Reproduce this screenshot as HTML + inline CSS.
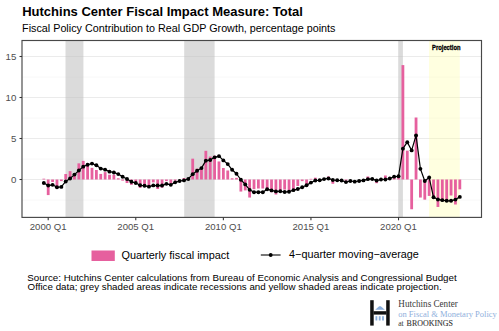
<!DOCTYPE html><html><head><meta charset="utf-8"><style>html,body{margin:0;padding:0;background:#fff;}svg{display:block;}text{font-family:"Liberation Sans",sans-serif;}</style></head><body>
<svg width="499" height="331" viewBox="0 0 499 331">
<rect x="0" y="0" width="499" height="331" fill="#fff"/>
<text x="22.2" y="15.6" font-size="13.0" font-weight="bold" fill="#000">Hutchins Center Fiscal Impact Measure: Total</text>
<text x="22.1" y="31.7" font-size="10.78" fill="#000">Fiscal Policy Contribution to Real GDP Growth, percentage points</text>
<defs><clipPath id="pc"><rect x="22.00" y="40.50" width="459.50" height="176.90"/></clipPath></defs>
<g clip-path="url(#pc)">
<line x1="22.00" x2="481.50" y1="200.00" y2="200.00" stroke="#F2F2F2" stroke-width="0.55"/>
<line x1="22.00" x2="481.50" y1="159.00" y2="159.00" stroke="#F2F2F2" stroke-width="0.55"/>
<line x1="22.00" x2="481.50" y1="118.00" y2="118.00" stroke="#F2F2F2" stroke-width="0.55"/>
<line x1="22.00" x2="481.50" y1="77.00" y2="77.00" stroke="#F2F2F2" stroke-width="0.55"/>
<line x1="22.00" x2="481.50" y1="179.50" y2="179.50" stroke="#EBEBEB" stroke-width="1.07"/>
<line x1="22.00" x2="481.50" y1="138.50" y2="138.50" stroke="#EBEBEB" stroke-width="1.07"/>
<line x1="22.00" x2="481.50" y1="97.50" y2="97.50" stroke="#EBEBEB" stroke-width="1.07"/>
<line x1="22.00" x2="481.50" y1="56.50" y2="56.50" stroke="#EBEBEB" stroke-width="1.07"/>
<rect x="65.50" y="40.50" width="17.90" height="176.90" fill="#BEBEBE" fill-opacity="0.55"/>
<rect x="184.20" y="40.50" width="30.40" height="176.90" fill="#BEBEBE" fill-opacity="0.55"/>
<rect x="398.20" y="40.50" width="4.70" height="176.90" fill="#BEBEBE" fill-opacity="0.55"/>
<rect x="429.00" y="40.50" width="30.80" height="176.90" fill="#FFFF99" fill-opacity="0.3"/>
<rect x="42.42" y="178.68" width="2.80" height="0.82" fill="#E6609E"/>
<rect x="46.80" y="179.50" width="2.80" height="15.58" fill="#E6609E"/>
<rect x="51.18" y="179.50" width="2.80" height="2.46" fill="#E6609E"/>
<rect x="55.56" y="179.50" width="2.80" height="9.02" fill="#E6609E"/>
<rect x="59.94" y="179.50" width="2.80" height="1.64" fill="#E6609E"/>
<rect x="64.32" y="174.01" width="2.80" height="5.49" fill="#E6609E"/>
<rect x="68.69" y="171.14" width="2.80" height="8.36" fill="#E6609E"/>
<rect x="73.07" y="173.10" width="2.80" height="6.40" fill="#E6609E"/>
<rect x="77.45" y="163.35" width="2.80" height="16.15" fill="#E6609E"/>
<rect x="81.83" y="160.89" width="2.80" height="18.61" fill="#E6609E"/>
<rect x="86.21" y="164.49" width="2.80" height="15.01" fill="#E6609E"/>
<rect x="90.59" y="167.86" width="2.80" height="11.64" fill="#E6609E"/>
<rect x="94.97" y="169.99" width="2.80" height="9.51" fill="#E6609E"/>
<rect x="99.35" y="173.92" width="2.80" height="5.58" fill="#E6609E"/>
<rect x="103.73" y="172.12" width="2.80" height="7.38" fill="#E6609E"/>
<rect x="108.11" y="174.74" width="2.80" height="4.76" fill="#E6609E"/>
<rect x="112.48" y="174.74" width="2.80" height="4.76" fill="#E6609E"/>
<rect x="116.86" y="178.27" width="2.80" height="1.23" fill="#E6609E"/>
<rect x="121.24" y="179.50" width="2.80" height="1.15" fill="#E6609E"/>
<rect x="125.62" y="179.50" width="2.80" height="3.53" fill="#E6609E"/>
<rect x="130.00" y="179.50" width="2.80" height="5.33" fill="#E6609E"/>
<rect x="134.38" y="179.50" width="2.80" height="4.10" fill="#E6609E"/>
<rect x="138.76" y="179.50" width="2.80" height="8.36" fill="#E6609E"/>
<rect x="143.14" y="179.50" width="2.80" height="6.97" fill="#E6609E"/>
<rect x="147.52" y="179.50" width="2.80" height="7.71" fill="#E6609E"/>
<rect x="151.90" y="179.50" width="2.80" height="2.87" fill="#E6609E"/>
<rect x="156.28" y="179.50" width="2.80" height="9.51" fill="#E6609E"/>
<rect x="160.65" y="179.50" width="2.80" height="8.20" fill="#E6609E"/>
<rect x="165.03" y="179.50" width="2.80" height="1.64" fill="#E6609E"/>
<rect x="169.41" y="179.50" width="2.80" height="4.10" fill="#E6609E"/>
<rect x="173.79" y="179.50" width="2.80" height="1.23" fill="#E6609E"/>
<rect x="182.55" y="178.02" width="2.80" height="1.48" fill="#E6609E"/>
<rect x="191.31" y="158.67" width="2.80" height="20.83" fill="#E6609E"/>
<rect x="195.69" y="168.59" width="2.80" height="10.91" fill="#E6609E"/>
<rect x="200.06" y="166.79" width="2.80" height="12.71" fill="#E6609E"/>
<rect x="204.44" y="150.80" width="2.80" height="28.70" fill="#E6609E"/>
<rect x="208.82" y="156.54" width="2.80" height="22.96" fill="#E6609E"/>
<rect x="213.20" y="155.72" width="2.80" height="23.78" fill="#E6609E"/>
<rect x="217.58" y="161.46" width="2.80" height="18.04" fill="#E6609E"/>
<rect x="221.96" y="168.02" width="2.80" height="11.48" fill="#E6609E"/>
<rect x="226.34" y="170.48" width="2.80" height="9.02" fill="#E6609E"/>
<rect x="230.72" y="178.27" width="2.80" height="1.23" fill="#E6609E"/>
<rect x="235.10" y="177.86" width="2.80" height="1.64" fill="#E6609E"/>
<rect x="239.48" y="179.50" width="2.80" height="12.05" fill="#E6609E"/>
<rect x="243.85" y="179.50" width="2.80" height="10.91" fill="#E6609E"/>
<rect x="248.23" y="179.50" width="2.80" height="18.04" fill="#E6609E"/>
<rect x="252.61" y="179.50" width="2.80" height="9.68" fill="#E6609E"/>
<rect x="256.99" y="179.50" width="2.80" height="9.02" fill="#E6609E"/>
<rect x="261.37" y="179.50" width="2.80" height="9.02" fill="#E6609E"/>
<rect x="265.75" y="179.50" width="2.80" height="9.02" fill="#E6609E"/>
<rect x="270.13" y="179.50" width="2.80" height="12.71" fill="#E6609E"/>
<rect x="274.51" y="179.50" width="2.80" height="15.01" fill="#E6609E"/>
<rect x="278.89" y="179.50" width="2.80" height="10.66" fill="#E6609E"/>
<rect x="283.27" y="179.50" width="2.80" height="10.09" fill="#E6609E"/>
<rect x="287.64" y="179.50" width="2.80" height="11.89" fill="#E6609E"/>
<rect x="292.02" y="179.50" width="2.80" height="9.51" fill="#E6609E"/>
<rect x="296.40" y="179.50" width="2.80" height="6.48" fill="#E6609E"/>
<rect x="300.78" y="179.50" width="2.80" height="1.64" fill="#E6609E"/>
<rect x="305.16" y="179.50" width="2.80" height="4.92" fill="#E6609E"/>
<rect x="309.54" y="178.84" width="2.80" height="0.66" fill="#E6609E"/>
<rect x="313.92" y="177.70" width="2.80" height="1.80" fill="#E6609E"/>
<rect x="327.06" y="176.47" width="2.80" height="3.03" fill="#E6609E"/>
<rect x="331.44" y="179.50" width="2.80" height="4.26" fill="#E6609E"/>
<rect x="344.57" y="179.50" width="2.80" height="1.23" fill="#E6609E"/>
<rect x="366.47" y="176.47" width="2.80" height="3.03" fill="#E6609E"/>
<rect x="375.22" y="179.50" width="2.80" height="3.69" fill="#E6609E"/>
<rect x="383.98" y="175.48" width="2.80" height="4.02" fill="#E6609E"/>
<rect x="388.36" y="178.68" width="2.80" height="0.82" fill="#E6609E"/>
<rect x="392.74" y="177.45" width="2.80" height="2.05" fill="#E6609E"/>
<rect x="397.12" y="177.04" width="2.80" height="2.46" fill="#E6609E"/>
<rect x="401.50" y="65.11" width="2.80" height="114.39" fill="#E6609E"/>
<rect x="405.88" y="150.64" width="2.80" height="28.86" fill="#E6609E"/>
<rect x="410.26" y="179.50" width="2.80" height="29.77" fill="#E6609E"/>
<rect x="414.64" y="117.51" width="2.80" height="61.99" fill="#E6609E"/>
<rect x="419.01" y="179.50" width="2.80" height="18.04" fill="#E6609E"/>
<rect x="423.39" y="179.50" width="2.80" height="20.17" fill="#E6609E"/>
<rect x="427.77" y="179.50" width="2.80" height="16.40" fill="#E6609E"/>
<rect x="432.15" y="179.50" width="2.80" height="18.86" fill="#E6609E"/>
<rect x="436.53" y="179.50" width="2.80" height="27.47" fill="#E6609E"/>
<rect x="440.91" y="179.50" width="2.80" height="20.09" fill="#E6609E"/>
<rect x="445.29" y="179.50" width="2.80" height="21.32" fill="#E6609E"/>
<rect x="449.67" y="179.50" width="2.80" height="15.99" fill="#E6609E"/>
<rect x="454.05" y="179.50" width="2.80" height="25.01" fill="#E6609E"/>
<rect x="458.43" y="179.50" width="2.80" height="9.84" fill="#E6609E"/>
<polyline points="43.82,183.03 48.20,185.57 52.58,184.83 56.96,187.21 61.34,186.88 65.72,181.47 70.09,178.43 74.47,174.58 78.85,170.48 83.23,166.63 87.61,164.74 91.99,163.59 96.37,165.23 100.75,168.59 105.13,169.66 109.51,171.63 113.88,172.53 118.26,174.09 122.64,176.71 127.02,179.01 131.40,181.80 135.78,183.03 140.16,185.24 144.54,185.81 148.92,186.63 153.30,185.40 157.68,185.57 162.05,185.57 166.43,183.85 170.81,184.83 175.19,182.37 179.57,180.98 183.95,180.40 188.33,178.93 192.71,174.17 197.09,170.81 201.46,168.10 205.84,160.64 210.22,160.07 214.60,157.36 218.98,156.13 223.36,160.39 227.74,164.08 232.12,169.82 236.50,173.76 240.88,179.75 245.25,184.42 249.63,189.83 254.01,192.21 258.39,192.21 262.77,192.21 267.15,189.18 271.53,190.41 275.91,191.39 280.29,191.23 284.67,192.05 289.04,191.72 293.42,190.16 297.80,189.01 302.18,187.21 306.56,185.24 310.94,182.62 315.32,180.48 319.70,180.32 324.08,179.09 328.46,178.43 332.83,179.99 337.21,180.32 341.59,180.48 345.97,182.12 350.35,180.98 354.73,181.63 359.11,180.98 363.49,180.40 367.87,179.17 372.25,178.93 376.62,180.57 381.00,179.50 385.38,179.50 389.76,178.52 394.14,176.63 398.52,176.30 402.90,148.67 407.28,142.19 411.66,150.39 416.04,135.38 420.41,168.84 424.79,180.98 429.17,177.53 433.55,197.29 437.93,199.43 442.31,200.16 446.69,200.82 451.07,200.82 455.45,199.59 459.83,196.88" fill="none" stroke="#000" stroke-width="1.2" stroke-linejoin="round"/>
<circle cx="43.82" cy="183.03" r="1.95" fill="#000"/>
<circle cx="48.20" cy="185.57" r="1.95" fill="#000"/>
<circle cx="52.58" cy="184.83" r="1.95" fill="#000"/>
<circle cx="56.96" cy="187.21" r="1.95" fill="#000"/>
<circle cx="61.34" cy="186.88" r="1.95" fill="#000"/>
<circle cx="65.72" cy="181.47" r="1.95" fill="#000"/>
<circle cx="70.09" cy="178.43" r="1.95" fill="#000"/>
<circle cx="74.47" cy="174.58" r="1.95" fill="#000"/>
<circle cx="78.85" cy="170.48" r="1.95" fill="#000"/>
<circle cx="83.23" cy="166.63" r="1.95" fill="#000"/>
<circle cx="87.61" cy="164.74" r="1.95" fill="#000"/>
<circle cx="91.99" cy="163.59" r="1.95" fill="#000"/>
<circle cx="96.37" cy="165.23" r="1.95" fill="#000"/>
<circle cx="100.75" cy="168.59" r="1.95" fill="#000"/>
<circle cx="105.13" cy="169.66" r="1.95" fill="#000"/>
<circle cx="109.51" cy="171.63" r="1.95" fill="#000"/>
<circle cx="113.88" cy="172.53" r="1.95" fill="#000"/>
<circle cx="118.26" cy="174.09" r="1.95" fill="#000"/>
<circle cx="122.64" cy="176.71" r="1.95" fill="#000"/>
<circle cx="127.02" cy="179.01" r="1.95" fill="#000"/>
<circle cx="131.40" cy="181.80" r="1.95" fill="#000"/>
<circle cx="135.78" cy="183.03" r="1.95" fill="#000"/>
<circle cx="140.16" cy="185.24" r="1.95" fill="#000"/>
<circle cx="144.54" cy="185.81" r="1.95" fill="#000"/>
<circle cx="148.92" cy="186.63" r="1.95" fill="#000"/>
<circle cx="153.30" cy="185.40" r="1.95" fill="#000"/>
<circle cx="157.68" cy="185.57" r="1.95" fill="#000"/>
<circle cx="162.05" cy="185.57" r="1.95" fill="#000"/>
<circle cx="166.43" cy="183.85" r="1.95" fill="#000"/>
<circle cx="170.81" cy="184.83" r="1.95" fill="#000"/>
<circle cx="175.19" cy="182.37" r="1.95" fill="#000"/>
<circle cx="179.57" cy="180.98" r="1.95" fill="#000"/>
<circle cx="183.95" cy="180.40" r="1.95" fill="#000"/>
<circle cx="188.33" cy="178.93" r="1.95" fill="#000"/>
<circle cx="192.71" cy="174.17" r="1.95" fill="#000"/>
<circle cx="197.09" cy="170.81" r="1.95" fill="#000"/>
<circle cx="201.46" cy="168.10" r="1.95" fill="#000"/>
<circle cx="205.84" cy="160.64" r="1.95" fill="#000"/>
<circle cx="210.22" cy="160.07" r="1.95" fill="#000"/>
<circle cx="214.60" cy="157.36" r="1.95" fill="#000"/>
<circle cx="218.98" cy="156.13" r="1.95" fill="#000"/>
<circle cx="223.36" cy="160.39" r="1.95" fill="#000"/>
<circle cx="227.74" cy="164.08" r="1.95" fill="#000"/>
<circle cx="232.12" cy="169.82" r="1.95" fill="#000"/>
<circle cx="236.50" cy="173.76" r="1.95" fill="#000"/>
<circle cx="240.88" cy="179.75" r="1.95" fill="#000"/>
<circle cx="245.25" cy="184.42" r="1.95" fill="#000"/>
<circle cx="249.63" cy="189.83" r="1.95" fill="#000"/>
<circle cx="254.01" cy="192.21" r="1.95" fill="#000"/>
<circle cx="258.39" cy="192.21" r="1.95" fill="#000"/>
<circle cx="262.77" cy="192.21" r="1.95" fill="#000"/>
<circle cx="267.15" cy="189.18" r="1.95" fill="#000"/>
<circle cx="271.53" cy="190.41" r="1.95" fill="#000"/>
<circle cx="275.91" cy="191.39" r="1.95" fill="#000"/>
<circle cx="280.29" cy="191.23" r="1.95" fill="#000"/>
<circle cx="284.67" cy="192.05" r="1.95" fill="#000"/>
<circle cx="289.04" cy="191.72" r="1.95" fill="#000"/>
<circle cx="293.42" cy="190.16" r="1.95" fill="#000"/>
<circle cx="297.80" cy="189.01" r="1.95" fill="#000"/>
<circle cx="302.18" cy="187.21" r="1.95" fill="#000"/>
<circle cx="306.56" cy="185.24" r="1.95" fill="#000"/>
<circle cx="310.94" cy="182.62" r="1.95" fill="#000"/>
<circle cx="315.32" cy="180.48" r="1.95" fill="#000"/>
<circle cx="319.70" cy="180.32" r="1.95" fill="#000"/>
<circle cx="324.08" cy="179.09" r="1.95" fill="#000"/>
<circle cx="328.46" cy="178.43" r="1.95" fill="#000"/>
<circle cx="332.83" cy="179.99" r="1.95" fill="#000"/>
<circle cx="337.21" cy="180.32" r="1.95" fill="#000"/>
<circle cx="341.59" cy="180.48" r="1.95" fill="#000"/>
<circle cx="345.97" cy="182.12" r="1.95" fill="#000"/>
<circle cx="350.35" cy="180.98" r="1.95" fill="#000"/>
<circle cx="354.73" cy="181.63" r="1.95" fill="#000"/>
<circle cx="359.11" cy="180.98" r="1.95" fill="#000"/>
<circle cx="363.49" cy="180.40" r="1.95" fill="#000"/>
<circle cx="367.87" cy="179.17" r="1.95" fill="#000"/>
<circle cx="372.25" cy="178.93" r="1.95" fill="#000"/>
<circle cx="376.62" cy="180.57" r="1.95" fill="#000"/>
<circle cx="381.00" cy="179.50" r="1.95" fill="#000"/>
<circle cx="385.38" cy="179.50" r="1.95" fill="#000"/>
<circle cx="389.76" cy="178.52" r="1.95" fill="#000"/>
<circle cx="394.14" cy="176.63" r="1.95" fill="#000"/>
<circle cx="398.52" cy="176.30" r="1.95" fill="#000"/>
<circle cx="402.90" cy="148.67" r="1.95" fill="#000"/>
<circle cx="407.28" cy="142.19" r="1.95" fill="#000"/>
<circle cx="411.66" cy="150.39" r="1.95" fill="#000"/>
<circle cx="416.04" cy="135.38" r="1.95" fill="#000"/>
<circle cx="420.41" cy="168.84" r="1.95" fill="#000"/>
<circle cx="424.79" cy="180.98" r="1.95" fill="#000"/>
<circle cx="429.17" cy="177.53" r="1.95" fill="#000"/>
<circle cx="433.55" cy="197.29" r="1.95" fill="#000"/>
<circle cx="437.93" cy="199.43" r="1.95" fill="#000"/>
<circle cx="442.31" cy="200.16" r="1.95" fill="#000"/>
<circle cx="446.69" cy="200.82" r="1.95" fill="#000"/>
<circle cx="451.07" cy="200.82" r="1.95" fill="#000"/>
<circle cx="455.45" cy="199.59" r="1.95" fill="#000"/>
<circle cx="459.83" cy="196.88" r="1.95" fill="#000"/>
<text x="432.1" y="50.1" font-size="7.1" font-weight="bold" fill="#000" stroke="#000" stroke-width="0.3" textLength="28.4" lengthAdjust="spacingAndGlyphs">Projection</text>
</g>
<rect x="22.00" y="40.50" width="459.50" height="176.90" fill="none" stroke="#484848" stroke-width="1.15"/>
<line x1="19.5" x2="22.00" y1="179.50" y2="179.50" stroke="#333" stroke-width="1.07"/>
<text x="16.4" y="183.00" font-size="9.7" fill="#4D4D4D" text-anchor="end">0</text>
<line x1="19.5" x2="22.00" y1="138.50" y2="138.50" stroke="#333" stroke-width="1.07"/>
<text x="16.4" y="142.00" font-size="9.7" fill="#4D4D4D" text-anchor="end">5</text>
<line x1="19.5" x2="22.00" y1="97.50" y2="97.50" stroke="#333" stroke-width="1.07"/>
<text x="16.4" y="101.00" font-size="9.7" fill="#4D4D4D" text-anchor="end">10</text>
<line x1="19.5" x2="22.00" y1="56.50" y2="56.50" stroke="#333" stroke-width="1.07"/>
<text x="16.4" y="60.00" font-size="9.7" fill="#4D4D4D" text-anchor="end">15</text>
<line x1="48.20" x2="48.20" y1="217.40" y2="220.3" stroke="#333" stroke-width="1.07"/>
<text x="48.20" y="230" font-size="9.6" fill="#4D4D4D" text-anchor="middle">2000 Q1</text>
<line x1="135.78" x2="135.78" y1="217.40" y2="220.3" stroke="#333" stroke-width="1.07"/>
<text x="135.78" y="230" font-size="9.6" fill="#4D4D4D" text-anchor="middle">2005 Q1</text>
<line x1="223.36" x2="223.36" y1="217.40" y2="220.3" stroke="#333" stroke-width="1.07"/>
<text x="223.36" y="230" font-size="9.6" fill="#4D4D4D" text-anchor="middle">2010 Q1</text>
<line x1="310.94" x2="310.94" y1="217.40" y2="220.3" stroke="#333" stroke-width="1.07"/>
<text x="310.94" y="230" font-size="9.6" fill="#4D4D4D" text-anchor="middle">2015 Q1</text>
<line x1="398.52" x2="398.52" y1="217.40" y2="220.3" stroke="#333" stroke-width="1.07"/>
<text x="398.52" y="230" font-size="9.6" fill="#4D4D4D" text-anchor="middle">2020 Q1</text>
<rect x="91.5" y="250.5" width="23.3" height="10.5" fill="#E6609E"/>
<text x="121.5" y="259.0" font-size="10.9" fill="#000">Quarterly fiscal impact</text>
<line x1="260.8" x2="280.6" y1="255" y2="255" stroke="#000" stroke-width="1.07"/>
<circle cx="270.7" cy="255" r="1.95" fill="#000"/>
<text x="289.1" y="258.2" font-size="10.8" fill="#000">4−quarter moving−average</text>
<text x="27.3" y="280.6" font-size="9.78" fill="#000">Source: Hutchins Center calculations from Bureau of Economic Analysis and Congressional Budget</text>
<text x="27.6" y="290.2" font-size="9.78" fill="#000">Office data; grey shaded areas indicate recessions and yellow shaded areas indicate projection.</text>
<g>
<rect x="370.2" y="300.2" width="3.5" height="25.4" fill="#111"/>
<rect x="386.2" y="300.2" width="3.5" height="25.4" fill="#111"/>
<rect x="373.5" y="311.2" width="12.9" height="3.4" fill="#111"/>
<polygon points="375.2,309.8 379.2,306.2 380.8,306.2 384.8,309.8" fill="#8AAEDB"/>
<rect x="375.50" y="316.2" width="1.8" height="4.3" fill="#8AAEDB"/>
<rect x="378.80" y="316.2" width="1.8" height="4.3" fill="#8AAEDB"/>
<rect x="382.10" y="316.2" width="1.8" height="4.3" fill="#8AAEDB"/>
</g>
<text x="398.3" y="307" font-size="9.4" fill="#3a3a3a" textLength="59.5" lengthAdjust="spacingAndGlyphs" style="font-family:'Liberation Serif'">Hutchins Center</text>
<text x="398.2" y="316.8" font-size="9.2" fill="#8FB0DC" textLength="98.6" lengthAdjust="spacingAndGlyphs" style="font-family:'Liberation Serif'">on Fiscal &amp; Monetary Policy</text>
<text x="398.2" y="326.2" font-size="7.6" fill="#333" style="font-family:'Liberation Serif'">at</text>
<text x="406.6" y="326.2" font-size="7.7" fill="#333" stroke="#333" stroke-width="0.1" textLength="46.4" lengthAdjust="spacingAndGlyphs" style="font-family:'Liberation Serif'">BROOKINGS</text>
</svg></body></html>
